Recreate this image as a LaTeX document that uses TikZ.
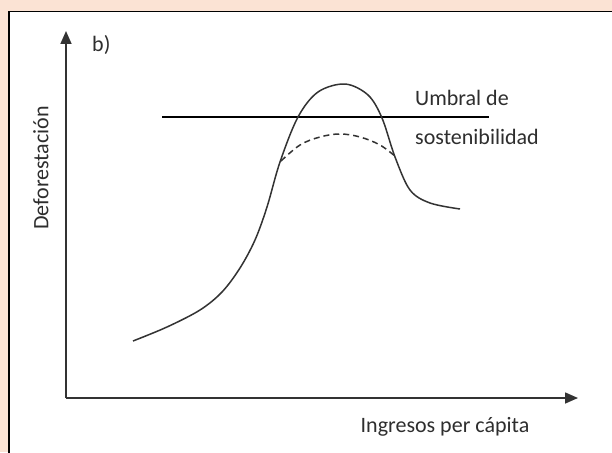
\documentclass[tikz,border=0pt]{standalone}
\usepackage{fontspec}
\setmainfont{Carlito}
\usetikzlibrary{arrows.meta}
\definecolor{peach}{HTML}{FBE3D4}
\definecolor{ink}{HTML}{333333}
\definecolor{txt}{HTML}{2E2E2E}
\tikzset{
  axis/.style={draw=ink, line width=1.6pt, -{Triangle[length=13pt,width=11pt]}},
  curve/.style={draw=ink, line width=1.5pt},
  dashcurve/.style={draw=ink, line width=1.5pt, dash pattern=on 6pt off 4pt},
  lbl/.style={text=txt, font=\fontsize{22}{26}\selectfont, inner sep=0pt},
}
\begin{document}
\begin{tikzpicture}[x=1pt,y=-1pt]
\fill[peach] (0,0) rectangle (612,452);
\useasboundingbox (0,0) rectangle (612,452);
\filldraw[fill=white, draw=black, line width=1.5pt] (9,11.5) rectangle (620,460);
\coordinate (O) at (66,398);
\coordinate (ytip) at (66,31);
\coordinate (xtip) at (578,398);
\draw[axis] (O) -- (ytip);
\draw[axis] (O) -- (xtip);
\node[lbl, anchor=west] (b) at (92,45) {b)};
\node[lbl, rotate=90] (ylab) at (41,168) {Deforestación};
\node[lbl] (xlab) at (445,427) {Ingresos per cápita};
\coordinate (t1) at (162,117);
\coordinate (t2) at (489,117);
\draw[draw=black, line width=1.5pt] (t1) -- (t2);
\node[lbl, anchor=west] (u1) at (415,98) {Umbral de};
\node[lbl, anchor=west] (u2) at (415,137) {sostenibilidad};
\draw[curve] plot[smooth, tension=0.55] coordinates {(133,341) (167,327) (200,310) (222,292) (240,268) (255,240) (267,207) (280,162) (298,117) (318,92) (345,84) (368,95) (382,118) (395,157) (410,190) (430,203) (460,209)};
\draw[dashcurve] plot[smooth, tension=0.6] coordinates {(281,161) (300,145) (320,137) (340,134) (360,137) (380,145) (396,157)};
\end{tikzpicture}
\end{document}
